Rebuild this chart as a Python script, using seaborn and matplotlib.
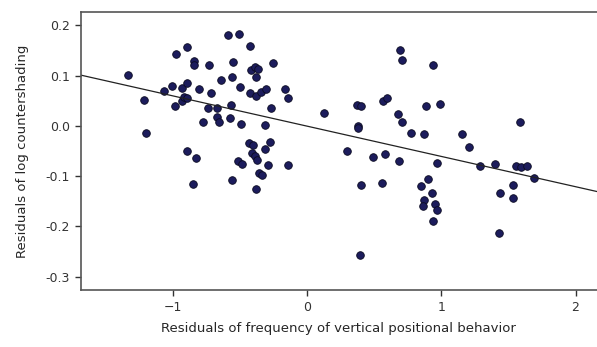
import matplotlib
matplotlib.use("Agg")
import matplotlib.pyplot as plt
import seaborn as sns
import pandas as pd

# residuals
x_resid = [
    -1.336, -1.216, -1.204, -1.069, -1.012, -0.980, -0.987, -0.937, -0.900, -0.893,
    -0.937, -0.920, -0.900, -0.843, -0.843, -0.806, -0.734, -0.719, -0.739, -0.776,
    -0.672, -0.672, -0.657, -0.644, -0.590, -0.510, -0.557, -0.560, -0.572, -0.577,
    -0.502, -0.495, -0.428, -0.420, -0.390, -0.366, -0.383, -0.428, -0.385, -0.343,
    -0.311, -0.254, -0.271, -0.316, -0.164, -0.146, 0.125,
    -0.896, -0.433, -0.403, -0.278, -0.316,
    -0.833, -0.851, -0.564, -0.519, -0.485, -0.415, -0.390, -0.378, -0.296, -0.358,
    -0.336, -0.383, -0.142,
    0.692, 0.704, 0.940, 0.368, 0.398, 0.562, 0.597, 0.674, 0.704, 0.883,
    0.990, 1.587, 0.376, 0.381, 0.771, 0.873, 1.152, 1.209, 0.294, 0.493, 0.580,
    0.687, 0.970, 1.284, 1.401, 1.557, 1.595, 1.637, 1.692, 0.398, 0.555,
    0.898, 0.848, 0.928, 0.873, 0.866, 0.953, 0.970, 0.936, 1.438, 1.533,
    1.533, 1.431, 0.393,
]
y_resid = [
    0.101, 0.051, -0.014, 0.069, 0.080, 0.143, 0.039, 0.076, 0.157, 0.086,
    0.050, 0.058, 0.055, 0.129, 0.121, 0.073, 0.122, 0.065, 0.035, 0.007,
    0.035, 0.018, 0.007, 0.092, 0.180, 0.183, 0.128, 0.098, 0.041, 0.015,
    0.078, 0.003, 0.159, 0.111, 0.118, 0.113, 0.098, 0.065, 0.060, 0.067,
    0.074, 0.125, 0.036, 0.001, 0.073, 0.055, 0.025,
    -0.050, -0.034, -0.038, -0.032, -0.047,
    -0.064, -0.115, -0.107, -0.070, -0.076, -0.054, -0.060, -0.068, -0.077, -0.093,
    -0.098, -0.125, -0.078,
    0.151, 0.132, 0.122, 0.041, 0.039, 0.049, 0.055, 0.023, 0.007, 0.040,
    0.044, 0.007, 0.000, -0.005, -0.015, -0.016, -0.016, -0.042, -0.050, -0.062, -0.055,
    -0.070, -0.073, -0.080, -0.075, -0.080, -0.082, -0.079, -0.104, -0.117, -0.114,
    -0.106, -0.120, -0.133, -0.148, -0.160, -0.155, -0.167, -0.190, -0.133, -0.117,
    -0.143, -0.213, -0.258,
]
x_ticks = [-1, 0, 1, 2]
y_ticks = [-0.3, -0.2, -0.1, 0.0, 0.1, 0.2]

df = pd.DataFrame({"x": x_resid, "y": y_resid})

sns.set_theme(style="ticks")
plt.rcParams["font.family"] = ["DejaVu Sans"]

fig = plt.figure(figsize=(5.97, 3.47), dpi=100)
ax = fig.add_axes([0.135, 0.164, 0.865, 0.801])
# limits first so the fitted line spans the whole axes
ax.set_xlim(-1.69, 2.16)
ax.set_ylim(-0.327, 0.2265)

sns.regplot(
    data=df, x="x", y="y", ax=ax, ci=None, truncate=False,
    scatter_kws={"s": 30, "color": "#1c1c5c", "edgecolor": "#0a0a20",
                 "linewidths": 0.6, "alpha": 1},
    line_kws={"color": "#222222", "linewidth": 0.9},
)

ax.set_xlim(-1.69, 2.16)
ax.set_ylim(-0.327, 0.2265)
ax.set_xticks(x_ticks)
ax.set_yticks(y_ticks)
ax.set_yticklabels([f"{v:.1f}" for v in y_ticks])
ax.tick_params(labelsize=9, length=4, width=1, colors="#333333")
ax.set_xlabel("Residuals of frequency of vertical positional behavior",
              fontsize=9.5, labelpad=6)
ax.set_ylabel("Residuals of log countershading", fontsize=9.5, labelpad=12)
for side in ["left", "bottom", "top"]:
    ax.spines[side].set_visible(True)
    ax.spines[side].set_color("#555555")
    ax.spines[side].set_linewidth(1.2)
ax.spines["right"].set_visible(False)

fig.savefig("out.png", dpi=100)
